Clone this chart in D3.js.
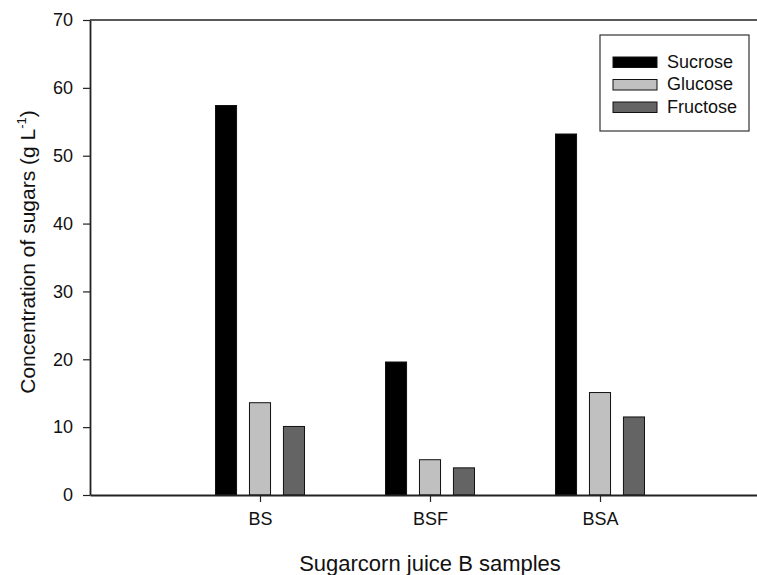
<html><head>
<script src="https://cdn.jsdelivr.net/npm/d3@7"></script>
<style>
  body { margin: 0; background: #fff; }
  text { font-family: Arial, "Liberation Sans", sans-serif; fill: #111; }
</style>
</head>
<body>
<script>
  // data
  var samples = ["BS", "BSF", "BSA"];
  var series = ["Sucrose", "Glucose", "Fructose"];
  var sucrose = [57.4, 19.6, 53.2];
  var glucose = [13.6, 5.2, 15.1];
  var fructose = [10.1, 4.0, 11.5];
  var yTicks = [0, 10, 20, 30, 40, 50, 60, 70];
  var colors = ["#000000", "#c0c0c0", "#646464"];

  var values = [sucrose, glucose, fructose];

  var width = 757, height = 575;
  var m = {left: 90, top: 20, bottom: 495, right: 770};

  var svg = d3.select("body").append("svg")
     .attr("width", width)
     .attr("height", height);

  // x: samples sit at positions 1..3 on a 0..4 axis
  var x = d3.scaleLinear().domain([0, 4]).range([m.left, m.right]);
  var y = d3.scaleLinear().domain([0, 70]).range([m.bottom, m.top]);
  var xs = d3.scaleBand().domain(series).range([-44.5, 44.5]).paddingInner(0.38);

  // bars
  series.forEach(function(s, i) {
     svg.append("g").selectAll("rect")
        .data(samples)
        .enter().append("rect")
        .attr("x", function(d, j) { return x(j + 1) + xs(s); })
        .attr("y", function(d, j) { return y(values[i][j]); })
        .attr("width", xs.bandwidth())
        .attr("height", function(d, j) { return y(0) - y(values[i][j]); })
        .attr("fill", colors[i])
        .attr("stroke", "#111")
        .attr("stroke-width", 1);
  });

  // frame top
  svg.append("line")
     .attr("x1", m.left).attr("x2", m.right)
     .attr("y1", m.top).attr("y2", m.top)
     .attr("stroke", "#222").attr("stroke-width", 1.6);

  // y axis
  var yAxis = svg.append("g")
     .attr("transform", "translate(" + m.left + ",0)")
     .call(d3.axisLeft(y).tickValues(yTicks).tickSize(7).tickPadding(10).tickSizeOuter(0));
  yAxis.select(".domain").attr("stroke", "#222").attr("stroke-width", 1.8);
  yAxis.selectAll(".tick line").attr("stroke", "#222").attr("stroke-width", 1.2);
  yAxis.selectAll("text").style("font-size", "18px").attr("fill", "#111");

  // x axis
  var xAxis = svg.append("g")
     .attr("transform", "translate(0," + m.bottom + ")")
     .call(d3.axisBottom(x).tickValues([1, 2, 3])
        .tickFormat(function(d) { return samples[d - 1]; })
        .tickSize(7).tickPadding(10).tickSizeOuter(0));
  xAxis.select(".domain").attr("stroke", "#222").attr("stroke-width", 1.8);
  xAxis.selectAll(".tick line").attr("stroke", "#222").attr("stroke-width", 1.2);
  xAxis.selectAll("text").style("font-size", "18px").attr("fill", "#111");

  // axis titles
  svg.append("text")
     .attr("x", 430).attr("y", 571)
     .attr("text-anchor", "middle")
     .style("font-size", "22px")
     .text("Sugarcorn juice B samples");

  var yt = svg.append("text")
     .attr("transform", "translate(35,252) rotate(-90)")
     .attr("text-anchor", "middle")
     .style("font-size", "21px");
  yt.append("tspan").text("Concentration of sugars (g L");
  yt.append("tspan").attr("dy", -9).style("font-size", "13px").text("-1");
  yt.append("tspan").attr("dy", 9).text(")");

  // legend
  var lg = svg.append("g").attr("transform", "translate(600,35)");
  lg.append("rect")
     .attr("width", 149).attr("height", 96)
     .attr("fill", "#fff").attr("stroke", "#333").attr("stroke-width", 1.2);
  series.forEach(function(s, i) {
     lg.append("rect")
        .attr("x", 13).attr("y", 22 + i * 22.5)
        .attr("width", 44).attr("height", 10.5)
        .attr("fill", colors[i]).attr("stroke", "#111").attr("stroke-width", 1);
     lg.append("text")
        .attr("x", 67).attr("y", 32.5 + i * 22.5)
        .style("font-size", "18px")
        .text(s);
  });
</script>
</body></html>
